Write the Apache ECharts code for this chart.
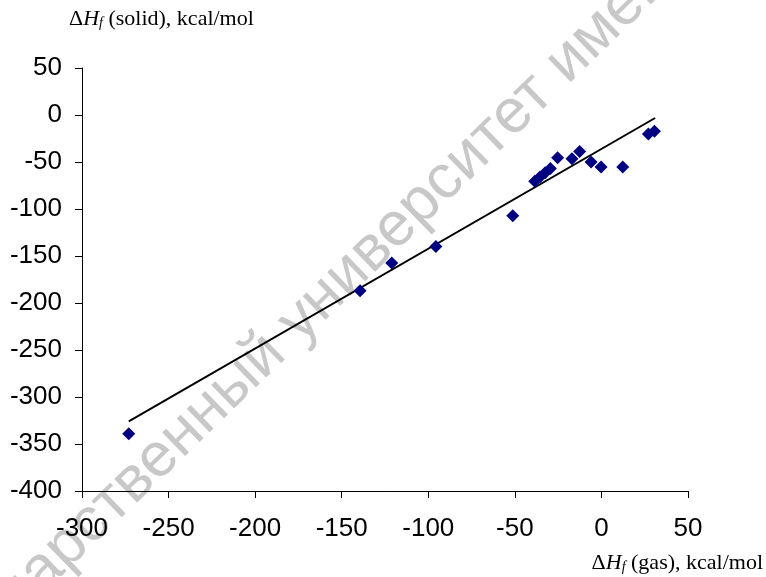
<!DOCTYPE html>
<html>
<head>
<meta charset="utf-8">
<title>Heat of formation: solid vs gas</title>
<script src="https://cdn.jsdelivr.net/npm/echarts@6/dist/echarts.min.js"></script>
<style>
  html, body { margin: 0; padding: 0; background: #fff; }
  #chart { width: 766px; height: 577px; }
</style>
</head>
<body>
<div id="chart"></div>
<script>
// ΔHf (gas) vs ΔHf (solid), kcal/mol
const gasValues = [-273, -139.4, -121.1, -95.6, -51.2, -38.5, -35.5, -32.5, -29.5, -25.3, -17, -12.6, -6, -0.2, 12.3, 27.1, 30.6];
const solidValues = [-339, -186.9, -157.4, -139.8, -107.1, -70.5, -66, -61.5, -57, -45.5, -46.5, -38.7, -50, -55.3, -55.3, -20.2, -17.4];

// linear trend line endpoints
const trendGas = [-273, 31];
const trendSolid = [-326, -3.2];

// axis ranges
const xRange = { min: -300, max: 50, step: 50 };
const yRange = { min: -400, max: 50, step: 50 };

const watermarkLeft = 'Государственный';
const watermarkRight = ' университет имени';

const chart = echarts.init(document.getElementById('chart'), null, { renderer: 'canvas' });

const points = gasValues.map((g, i) => [g, solidValues[i]]);
const trend = trendGas.map((g, i) => [g, trendSolid[i]]);

const sans = 'Liberation Sans, Arial, sans-serif';
const serif = 'Liberation Serif, Times New Roman, serif';

const axisCommon = {
  type: 'value',
  axisLine: { show: true, onZero: false, lineStyle: { color: '#000', width: 1 } },
  axisTick: { show: true, inside: false, length: 7, lineStyle: { color: '#000', width: 1 } },
  splitLine: { show: false },
  axisLabel: { color: '#000', fontSize: 26, fontFamily: sans }
};

const titleRich = {
  n: { fontFamily: serif, fontSize: 22, color: '#000' },
  i: { fontFamily: serif, fontSize: 22, fontStyle: 'italic', color: '#000' },
  s: { fontFamily: serif, fontSize: 14, fontStyle: 'italic', color: '#000', verticalAlign: 'bottom', padding: [8, 0, 0, 0] }
};

// faint diagonal watermark, split at the word gap so it can be anchored there
const wmAngle = 0.77;
const wmX = 276, wmY = 344;
const wmStyle = { fill: '#c8c8c8', fontSize: 62, fontFamily: sans, verticalAlign: 'middle' };

chart.setOption({
  animation: false,
  grid: { left: 82, right: 78, top: 68, bottom: 86, containLabel: false },
  xAxis: Object.assign({}, axisCommon, {
    min: xRange.min, max: xRange.max, interval: xRange.step,
    axisLabel: Object.assign({}, axisCommon.axisLabel, { margin: 25 })
  }),
  yAxis: Object.assign({}, axisCommon, {
    min: yRange.min, max: yRange.max, interval: yRange.step,
    axisLabel: Object.assign({}, axisCommon.axisLabel, { margin: 20 })
  }),
  graphic: [
    {
      type: 'text', x: wmX, y: wmY, rotation: wmAngle, z: -10, silent: true,
      style: Object.assign({ text: watermarkLeft, align: 'right' }, wmStyle)
    },
    {
      type: 'text', x: wmX, y: wmY, rotation: wmAngle, z: -10, silent: true,
      style: Object.assign({ text: watermarkRight, align: 'left' }, wmStyle)
    },
    {
      type: 'text', left: 69, top: 8, z: 10,
      style: { text: '{n|Δ}{i|H}{s|f}{n| (solid), kcal/mol}', rich: titleRich }
    },
    {
      type: 'text', right: 3, top: 552, z: 10,
      style: { text: '{n|Δ}{i|H}{s|f}{n| (gas), kcal/mol}', rich: titleRich }
    }
  ],
  series: [
    {
      type: 'line',
      data: trend,
      symbol: 'none',
      lineStyle: { color: '#000', width: 2 },
      silent: true,
      z: 3
    },
    {
      type: 'scatter',
      data: points,
      symbol: 'diamond',
      symbolSize: 13,
      itemStyle: { color: '#000080', opacity: 1 },
      z: 4
    }
  ]
});
</script>
</body>
</html>
